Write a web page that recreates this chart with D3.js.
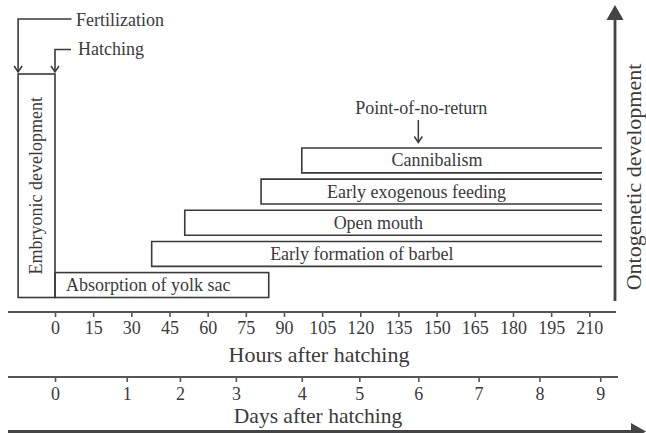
<!DOCTYPE html>
<html>
<head>
<meta charset="utf-8">
<script src="https://cdn.jsdelivr.net/npm/d3@7"></script>
<style>
  html, body { margin: 0; padding: 0; background: #fff; }
  svg { display: block; }
  svg text { font-family: "Liberation Serif", "Times New Roman", Times, "DejaVu Serif", serif !important; fill: #3a3a3a; }
</style>
</head>
<body>
<svg id="chart" width="646" height="433" font-family="Liberation Serif, serif"></svg>
<script>
// ---- data ----
const stages      = ["Absorption of yolk sac", "Early formation of barbel", "Open mouth", "Early exogenous feeding", "Cannibalism"];
const stageStart  = [0, 38, 51, 81, 97];
const stageEnd    = [84, 215, 215, 215, 215];
const stageOpen   = [false, true, true, true, true];
const embryoStart = -14.5;   // fertilization (hours)
const embryoEnd   = 0;       // hatching (hours)
const hourTicks   = [0, 15, 30, 45, 60, 75, 90, 105, 120, 135, 150, 165, 180, 195, 210];
const dayTicks    = [0, 1, 2, 3, 4, 5, 6, 7, 8, 9];
const dayTickHours = [0, 28.2, 49.1, 71.1, 97, 119.6, 142.8, 166.5, 190.4, 214.3];
const pointOfNoReturnDay = 6;

// ---- drawing ----
const svg = d3.select("#chart");
const ink = "#3a3a3a";
const FONT = "Liberation Serif, Times New Roman, serif";

const x = d3.scaleLinear().domain([0, 210]).range([55, 589.3]);
const xDay = d3.scaleLinear().domain(dayTicks).range(dayTickHours.map(x));
const y = d3.scaleBand().domain(d3.range(stages.length).reverse()).range([148, 297.5]).paddingInner(0.2);

const defs = svg.append("defs");
defs.append("marker").attr("id", "openArrow").attr("viewBox", "0 0 10 10")
  .attr("refX", 9).attr("refY", 5).attr("markerWidth", 10).attr("markerHeight", 10)
  .attr("markerUnits", "userSpaceOnUse").attr("orient", "auto")
  .append("path").attr("d", "M3,1 L9,5 L3,9").attr("fill", "none").attr("stroke", ink).attr("stroke-width", 1.5);

// Hours axis
const hoursY = 312;
svg.append("line").attr("x1", 8).attr("x2", 616).attr("y1", hoursY).attr("y2", hoursY)
  .attr("stroke", "#555").attr("stroke-width", 2);
const hAxis = svg.append("g").attr("transform", `translate(0,${hoursY})`)
  .call(d3.axisBottom(x).tickValues(hourTicks).tickSize(5).tickSizeOuter(0));
hAxis.attr("font-family", FONT);
hAxis.select(".domain").remove();
hAxis.selectAll(".tick line").attr("stroke", "#555").attr("stroke-width", 1.6);
hAxis.selectAll(".tick text").attr("y", 9).attr("font-size", 18).attr("fill", ink);
svg.append("text").attr("x", 319).attr("y", 362).attr("text-anchor", "middle").attr("font-size", 22)
  .text("Hours after hatching");

// Days axis
const daysY = 377;
svg.append("line").attr("x1", 8).attr("x2", 618).attr("y1", daysY).attr("y2", daysY)
  .attr("stroke", "#555").attr("stroke-width", 2);
const dAxis = svg.append("g").attr("transform", `translate(0,${daysY})`)
  .call(d3.axisBottom(xDay).tickValues(dayTicks).tickFormat(d3.format("d")).tickSize(5).tickSizeOuter(0));
dAxis.attr("font-family", FONT);
dAxis.select(".domain").remove();
dAxis.selectAll(".tick line").attr("stroke", "#555").attr("stroke-width", 1.6);
dAxis.selectAll(".tick text").attr("y", 10).attr("font-size", 18).attr("fill", ink);
svg.append("text").attr("x", 318).attr("y", 423).attr("text-anchor", "middle").attr("font-size", 21.5)
  .text("Days after hatching");

// Bottom arrow
svg.append("line").attr("x1", 8).attr("x2", 634).attr("y1", 431.5).attr("y2", 431.5)
  .attr("stroke", "#444").attr("stroke-width", 3);
svg.append("path").attr("d", "M631,423 L646,431.5 L631,440 Z").attr("fill", "#444");

// Right vertical arrow
svg.append("line").attr("x1", 615).attr("x2", 615).attr("y1", 301).attr("y2", 18)
  .attr("stroke", "#444").attr("stroke-width", 2.8);
svg.append("path").attr("d", "M606.5,20 L615,5 L623.5,20 Z").attr("fill", "#444");
svg.append("text").attr("transform", "translate(641,177) rotate(-90)").attr("text-anchor", "middle")
  .attr("font-size", 22).text("Ontogenetic development");

// Embryonic development box
const yBottom = y(0) + y.bandwidth();
svg.append("rect").attr("x", x(embryoStart)).attr("y", 74)
  .attr("width", x(embryoEnd) - x(embryoStart)).attr("height", yBottom - 74)
  .attr("fill", "none").attr("stroke", ink).attr("stroke-width", 1.6);
svg.append("text")
  .attr("transform", `translate(${(x(embryoStart) + x(embryoEnd)) / 2 + 5},${(74 + yBottom) / 2}) rotate(-90)`)
  .attr("text-anchor", "middle").attr("font-size", 18).text("Embryonic development");

// Stage bars
stages.forEach((name, i) => {
  const x0 = x(stageStart[i]), x1 = x(stageEnd[i]);
  const y0 = y(i), h = y.bandwidth();
  if (stageOpen[i]) {
    svg.append("path").attr("d", `M${x1},${y0} H${x0} V${y0 + h} H${x1}`)
      .attr("fill", "none").attr("stroke", ink).attr("stroke-width", 1.6);
    svg.append("text").attr("x", (x0 + x1) / 2 - 15).attr("y", y0 + h / 2 + 6)
      .attr("text-anchor", "middle").attr("font-size", 18).text(name);
  } else {
    svg.append("rect").attr("x", x0).attr("y", y0).attr("width", x1 - x0).attr("height", h)
      .attr("fill", "none").attr("stroke", ink).attr("stroke-width", 1.6);
    svg.append("text").attr("x", x0 + 11).attr("y", y0 + h / 2 + 6)
      .attr("font-size", 18).text(name);
  }
});

// Fertilization / Hatching annotations
const xf = x(embryoStart), xh = x(embryoEnd);
svg.append("path").attr("d", `M71.5,19 H${xf} V72`).attr("fill", "none").attr("stroke", ink)
  .attr("stroke-width", 1.6).attr("marker-end", "url(#openArrow)");
svg.append("text").attr("x", 76).attr("y", 26).attr("font-size", 18).text("Fertilization");
svg.append("path").attr("d", `M71,49.5 H${xh} V72`).attr("fill", "none").attr("stroke", ink)
  .attr("stroke-width", 1.6).attr("marker-end", "url(#openArrow)");
svg.append("text").attr("x", 78).attr("y", 55).attr("font-size", 18).text("Hatching");

// Point-of-no-return
const xp = xDay(pointOfNoReturnDay);
svg.append("text").attr("x", xp + 3).attr("y", 114).attr("text-anchor", "middle").attr("font-size", 18)
  .text("Point-of-no-return");
svg.append("line").attr("x1", xp).attr("x2", xp).attr("y1", 120).attr("y2", 142.5)
  .attr("stroke", ink).attr("stroke-width", 1.5).attr("marker-end", "url(#openArrow)");
</script>
</body>
</html>
